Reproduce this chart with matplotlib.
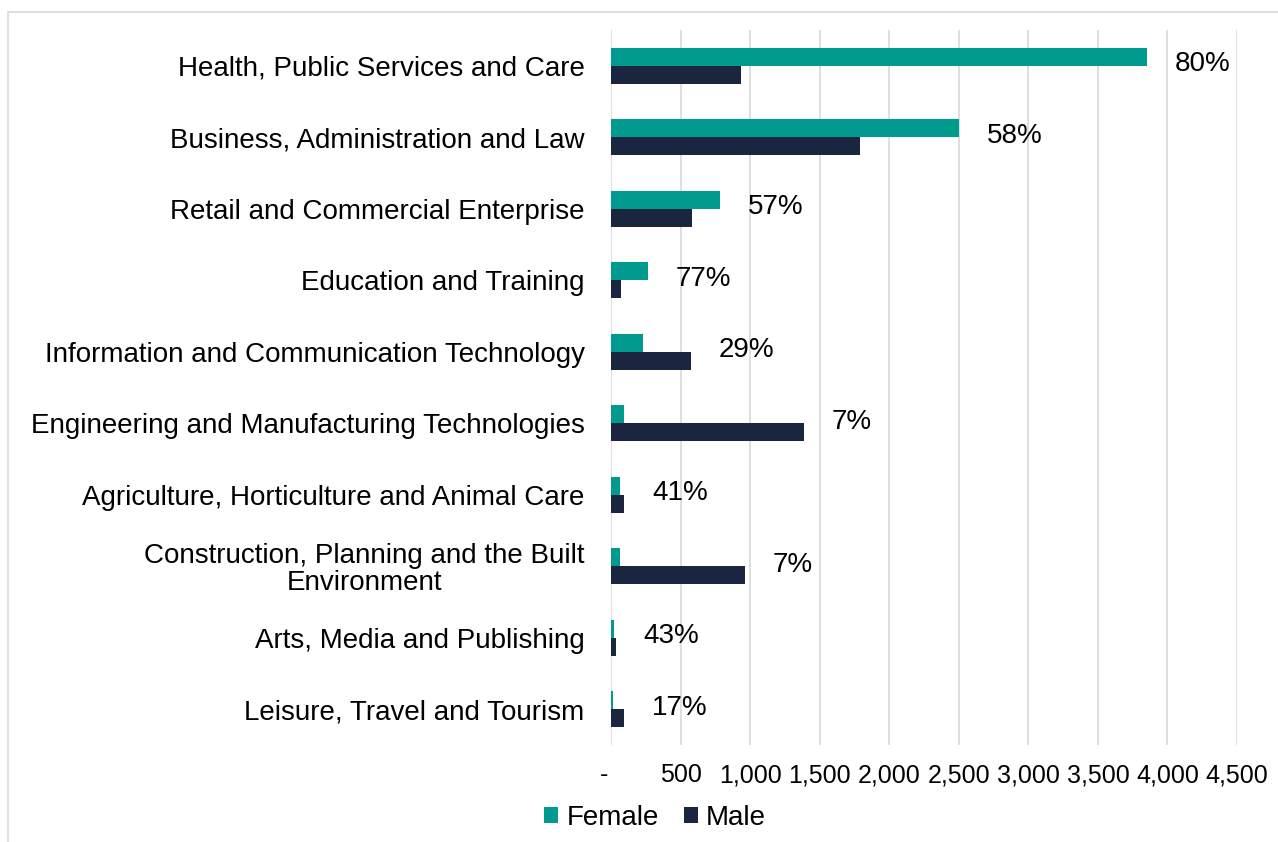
import matplotlib.pyplot as plt
import numpy as np
from matplotlib.patches import Rectangle
from matplotlib.ticker import FuncFormatter

plt.rcParams['font.family'] = ['Liberation Sans', 'DejaVu Sans']

categories = [
    "Health, Public Services and Care",
    "Business, Administration and Law",
    "Retail and Commercial Enterprise",
    "Education and Training",
    "Information and Communication Technology",
    "Engineering and Manufacturing Technologies",
    "Agriculture, Horticulture and Animal Care",
    "Construction, Planning and the Built\nEnvironment",
    "Arts, Media and Publishing",
    "Leisure, Travel and Tourism",
]
female = [3850, 2505, 785, 265, 230, 95, 65, 65, 22, 14]
male = [935, 1790, 585, 75, 575, 1385, 95, 965, 36, 94]
pct_labels = ["80%", "58%", "57%", "77%", "29%", "7%", "41%", "7%", "43%", "17%"]

teal = "#009A8E"
navy = "#1A2640"

fig = plt.figure(figsize=(12.78, 8.42), dpi=100)
ax = fig.add_axes([611 / 1278, 1 - 745 / 842, (1237 - 611) / 1278, (745 - 30) / 842])

y = np.arange(len(categories))
h = 0.25
ax.barh(y - h / 2, female, height=h, color=teal, label="Female", zorder=3)
ax.barh(y + h / 2, male, height=h, color=navy, label="Male", zorder=3)

for yi, f, m, lab in zip(y, female, male, pct_labels):
    ax.text(max(f, m) + 200, yi - 0.02, lab, ha="left", va="center", fontsize=20, color="black")

ax.set_xlim(0, 4500)
ax.set_ylim(len(categories) - 0.5, -0.5)
ax.set_xticks(np.arange(0, 4501, 500))
ax.xaxis.set_major_formatter(FuncFormatter(lambda v, p: "-  " if v == 0 else f"{int(v):,}"))
ax.set_yticks(y)
ax.set_yticklabels(categories, fontsize=20)
for t in ax.get_yticklabels():
    t.set_multialignment("center")
    t.set_linespacing(1.05)
ax.tick_params(axis="x", labelsize=18, length=0, pad=13)
ax.tick_params(axis="y", length=0, pad=19)
ax.grid(axis="x", color="#D9D9D9", linewidth=1.2, zorder=0)
for s in ax.spines.values():
    s.set_visible(False)

fig.legend(loc="center", bbox_to_anchor=(655 / 1278, 1 - 818 / 842), ncol=2, frameon=False,
           fontsize=20, handlelength=0.5, handleheight=0.5, handletextpad=0.3, columnspacing=0.9)

fig.patches.append(Rectangle((8 / 1278, -0.1), 1.2, 1 - 12 / 842 + 0.1, transform=fig.transFigure,
                             fill=False, edgecolor="#D9D9D9", linewidth=1.2))

fig.savefig("out.png", dpi=100)
